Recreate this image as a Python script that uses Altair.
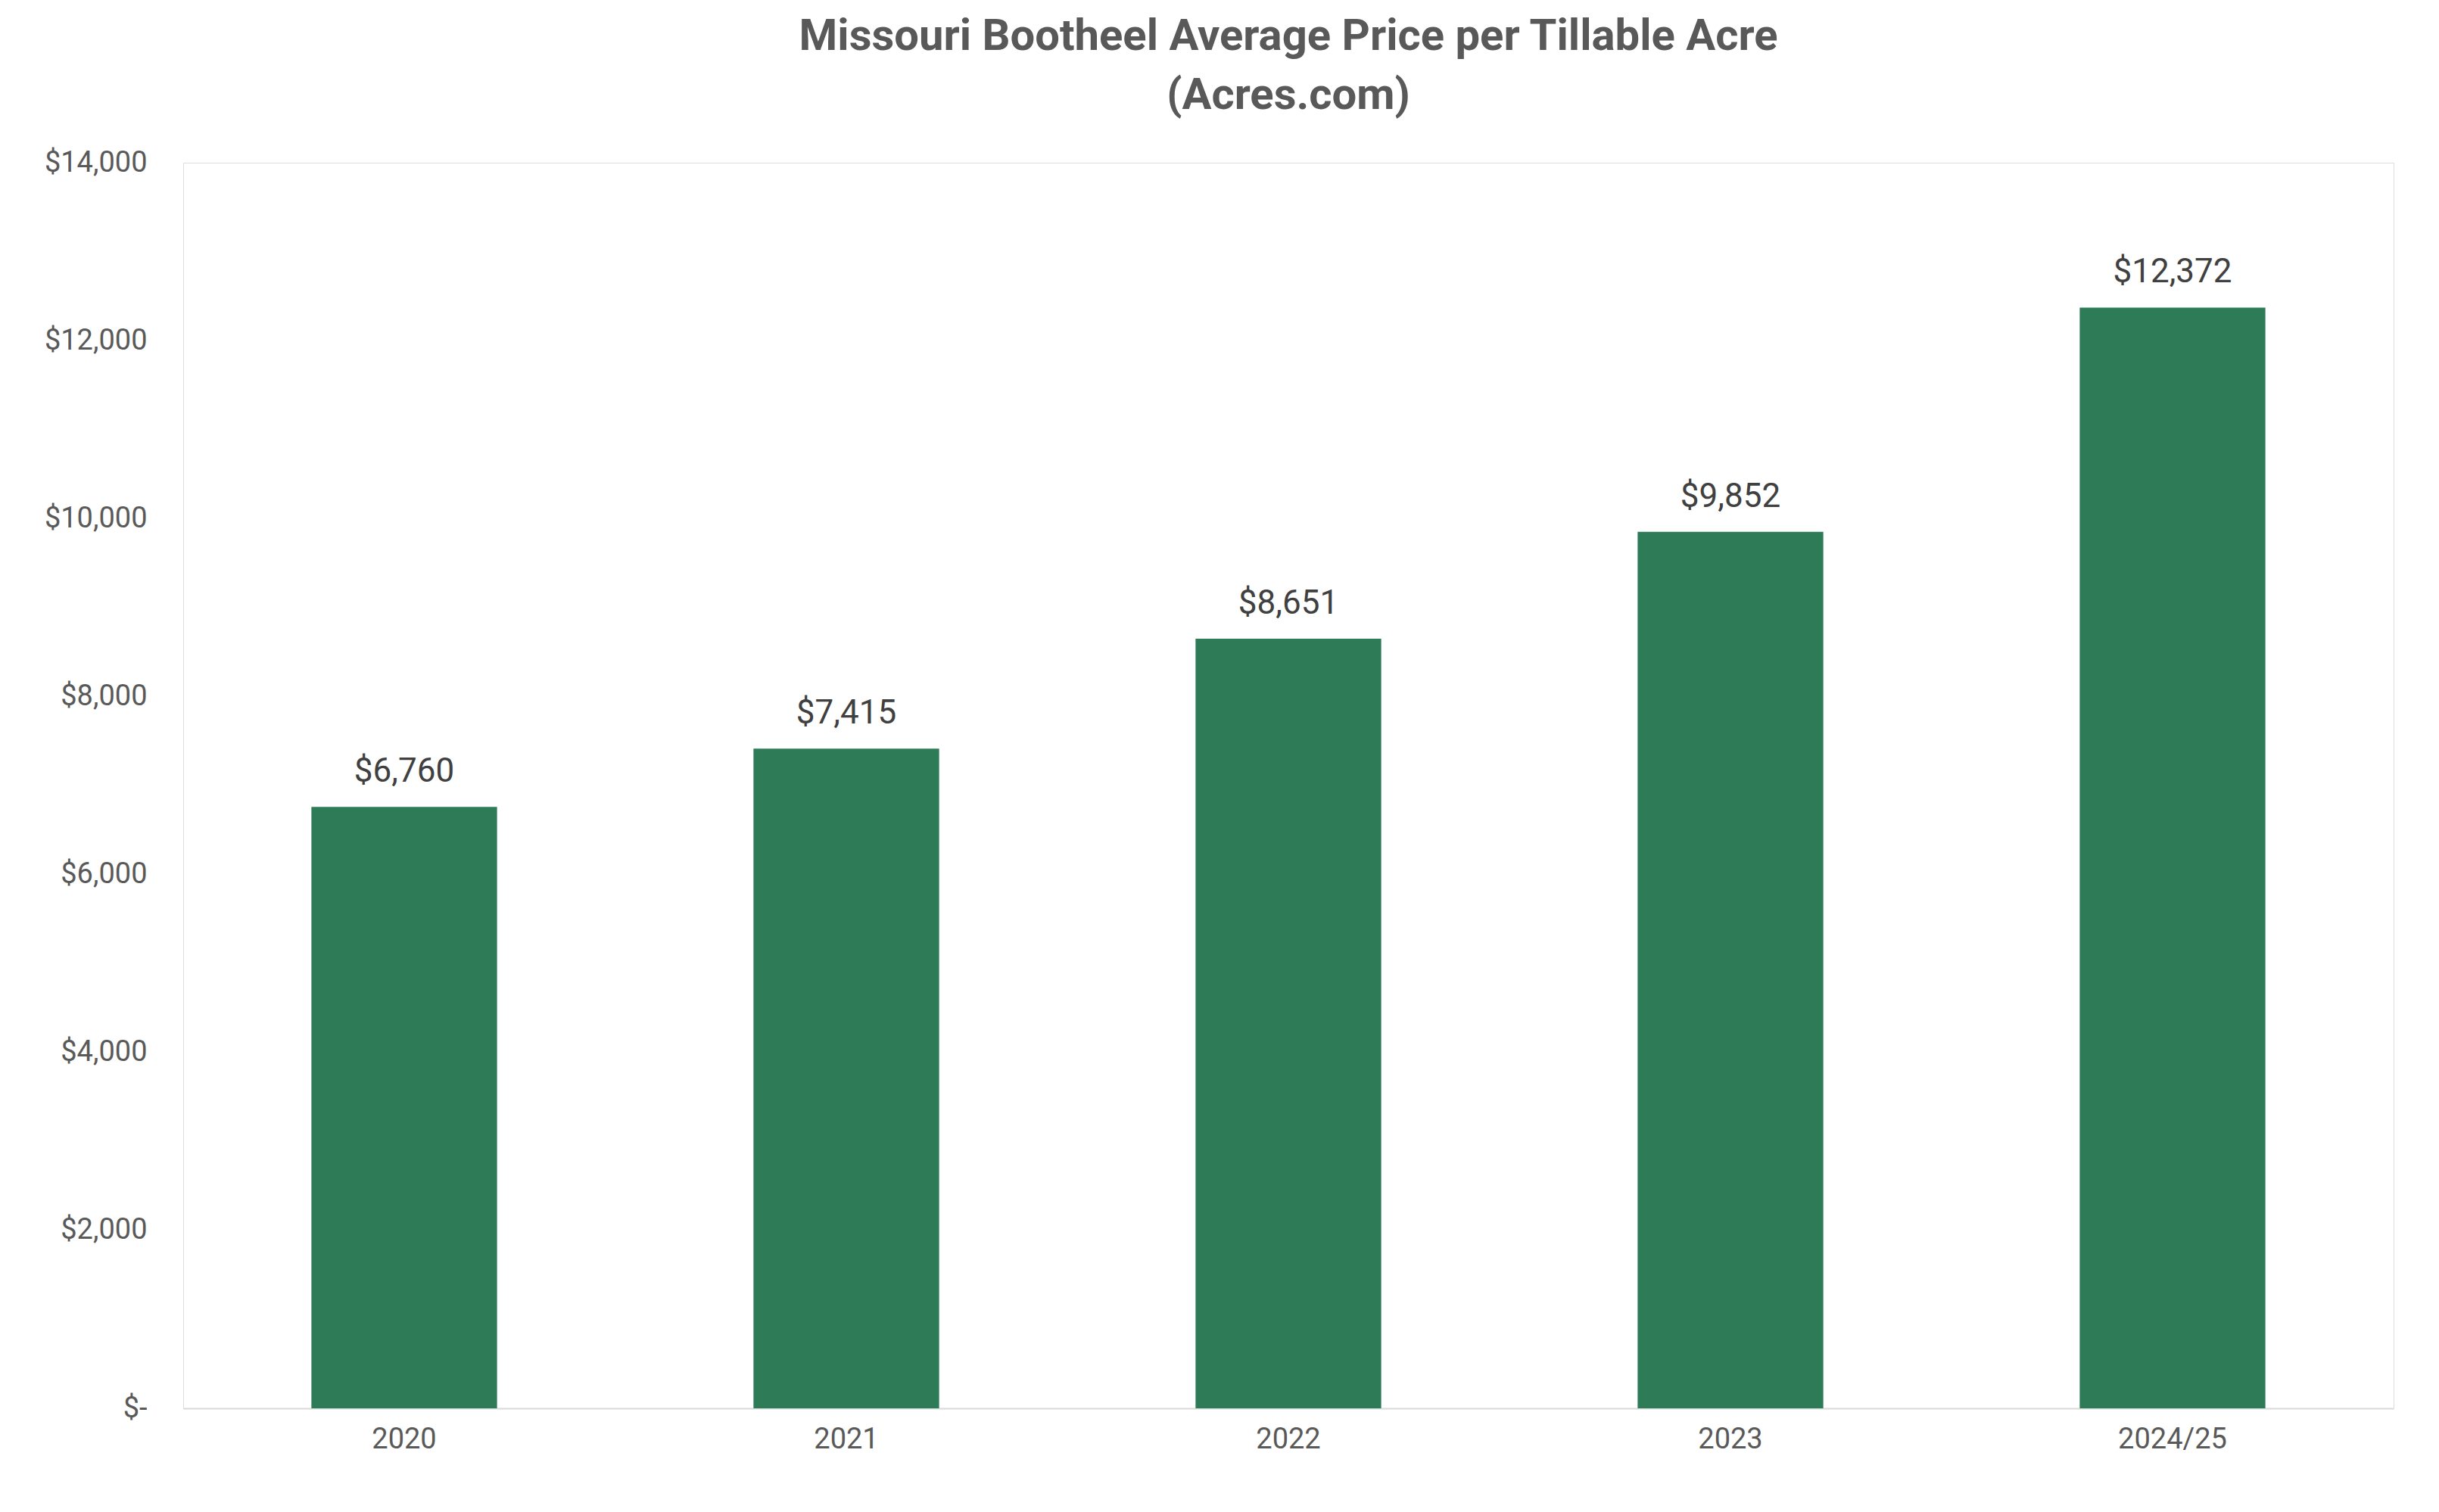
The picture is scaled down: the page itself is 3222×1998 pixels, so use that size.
import altair as alt
import pandas as pd

years = ["2020", "2021", "2022", "2023", "2024/25"]
prices = [6760, 7415, 8651, 9852, 12372]

df = pd.DataFrame({"Year": years, "Price": prices})
df["Label"] = ["$" + f"{p:,}" for p in prices]

base = alt.Chart(df).encode(
    x=alt.X("Year:N", sort=years, title=None,
            scale=alt.Scale(paddingInner=0.58, paddingOuter=0.29),
            axis=alt.Axis(labelAngle=0, ticks=False, domainColor="#d9d9d9",
                          domainWidth=2, labelFontSize=38, labelColor="#595959",
                          labelPadding=22, labelFont="Roboto")),
    y=alt.Y("Price:Q", title=None,
            scale=alt.Scale(domain=[0, 14000]),
            axis=alt.Axis(values=list(range(0, 14001, 2000)), grid=False, domain=False,
                          ticks=False, labelFontSize=38, labelColor="#595959",
                          labelPadding=48, labelFont="Roboto",
                          labelExpr="datum.value == 0 ? '$-' : '$' + format(datum.value, ',')")),
)

bars = base.mark_bar(color="#2E7B57")
text = base.mark_text(dy=-24, baseline="bottom", fontSize=44, color="#404040",
                      font="Roboto").encode(text="Label:N")

chart = (bars + text).properties(
    width=2920, height=1646,
    padding={"left": 50, "top": 12, "right": 5, "bottom": 5},
    title=alt.TitleParams(
        ["Missouri Bootheel Average Price per Tillable Acre", "(Acres.com)"],
        fontSize=58, font="Roboto", fontWeight="bold", color="#595959",
        lineHeight=78, offset=40, anchor="middle"),
).configure_view(strokeWidth=0).configure(background="white")

chart.save("out.html", embed_options={"renderer": "svg", "actions": False})
